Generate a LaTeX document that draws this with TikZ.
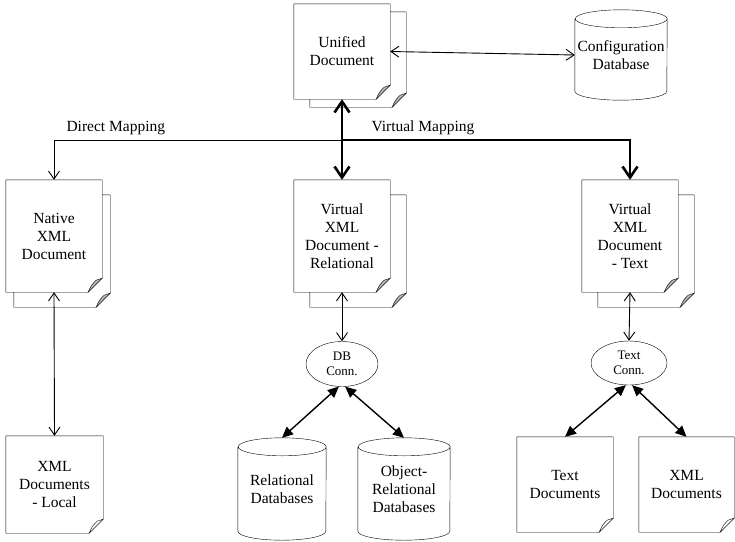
\documentclass[tikz,border=0pt]{standalone}
\usepackage{fontspec}
\setmainfont{Liberation Serif}
\usetikzlibrary{arrows.meta,shapes.geometric}

% front sheet of a document: outline with a folded corner
\newcommand{\frontsheet}[2]{%
  \draw (#1.south west) -- (#1.north west) -- (#1.north east)
    -- ([yshift=14pt]#1.south east) -- ([xshift=-14pt]#1.south east) -- cycle;
  \draw[fill=#2] ([xshift=-14pt]#1.south east)
    .. controls ([xshift=-11pt,yshift=7pt]#1.south east) .. ([xshift=-6pt,yshift=12pt]#1.south east)
    -- ([yshift=14pt]#1.south east) -- cycle;
}
% second sheet behind it, only the visible part
\newcommand{\backsheet}[3]{%
  \draw ([yshift=-#3]#1.north east) -- ([xshift=#2,yshift=-#3]#1.north east)
    -- ([xshift=#2,yshift=14pt-#3]#1.south east) -- ([xshift=#2-14pt,yshift=-#3]#1.south east)
    -- ([xshift=#2,yshift=-#3]#1.south west) -- ([xshift=#2]#1.south west);
  \draw[fill=black!30] ([xshift=#2-14pt,yshift=-#3]#1.south east)
    .. controls ([xshift=#2-11pt,yshift=7pt-#3]#1.south east) .. ([xshift=#2-6pt,yshift=12pt-#3]#1.south east)
    -- ([xshift=#2,yshift=14pt-#3]#1.south east) -- cycle;
}
% database drum
\newcommand{\drum}[2]{%
  \draw ([yshift=-9pt]#1.north west) -- ([yshift=9pt]#1.south west)
    arc[start angle=180, end angle=360, x radius=#2, y radius=9pt]
    -- ([yshift=-9pt]#1.north east)
    arc[start angle=0, end angle=180, x radius=#2, y radius=9pt]
    arc[start angle=180, end angle=360, x radius=#2, y radius=9pt];
}

\begin{document}
\begin{tikzpicture}[
    x=1pt, y=-1pt,
    every node/.style={font=\fontsize{15.5}{18}\selectfont},
    sheet/.style={align=center, inner sep=0pt, minimum width=96pt},
    store/.style={align=center, inner sep=0pt},
    conn/.style={draw, ellipse, align=center, inner sep=0pt, font=\fontsize{13}{15}\selectfont},
    thinlink/.style={line width=0.9pt, arrows={Straight Barb[length=8pt,width=11pt]-Straight Barb[length=8pt,width=11pt]}},
    boldlink/.style={line width=2.6pt, arrows={-Straight Barb[length=11pt,width=15pt]}},
    filllink/.style={line width=1.4pt, arrows={Triangle[length=11pt,width=10pt]-Triangle[length=11pt,width=10pt]}}
  ]
  \useasboundingbox (0,0) rectangle (735,541);

  % Top row
  \node[sheet, minimum height=95pt] (unified) at (342,51.5) {Unified\\Document};
  \node[store, minimum width=92pt, minimum height=90pt] (configdb) at (621,55) {Configuration\\Database};

  % Mapped documents
  \node[sheet, minimum height=112pt] (native) at (54,236) {Native\\XML\\Document};
  \node[sheet, minimum height=112pt] (relational) at (342,236) {Virtual\\XML\\Document -\\Relational};
  \node[sheet, minimum height=112pt] (vtext) at (630,236) {Virtual\\XML\\Document\\- Text};

  % Connectors
  \node[conn, minimum width=72pt, minimum height=45pt] (dbconn) at (342,364) {DB\\Conn.};
  \node[conn, minimum width=76pt, minimum height=44pt] (textconn) at (629,363) {Text\\Conn.};

  % Sources
  \node[sheet, minimum width=97pt, minimum height=97pt] (xmllocal) at (54.5,484.5) {XML\\Documents\\- Local};
  \node[store, minimum width=88pt, minimum height=102pt] (reldb) at (282,489) {Relational\\Databases};
  \node[store, minimum width=92pt, minimum height=102pt] (ordb) at (404,489) {Object-\\Relational\\Databases};
  \node[sheet, minimum height=95pt] (textdocs) at (565,484.5) {Text\\Documents};
  \node[sheet, minimum width=95pt, minimum height=95pt] (xmldocs) at (686.5,484.5) {XML\\Documents};

  % Sheets and drums
  \backsheet{unified}{16pt}{8pt}
  \frontsheet{unified}{black!30}
  \backsheet{native}{8pt}{15pt}
  \frontsheet{native}{black!30}
  \backsheet{relational}{16pt}{15pt}
  \frontsheet{relational}{black!30}
  \backsheet{vtext}{16pt}{15pt}
  \frontsheet{vtext}{black!30}
  \frontsheet{xmllocal}{white}
  \frontsheet{textdocs}{white}
  \frontsheet{xmldocs}{white}
  \drum{configdb}{46pt}
  \drum{reldb}{44pt}
  \drum{ordb}{46pt}

  % Mapping labels
  \coordinate (split) at (342,140);
  \node[anchor=west] (dmap) at (63,128) {Direct Mapping};
  \node[anchor=west] (vmap) at (368,128) {Virtual Mapping};

  % Links
  \draw[thinlink] (unified.east) -- (configdb.west);
  \draw[thinlink, arrows={-Straight Barb[length=8pt,width=11pt]}] (split) -| (native.north);
  \draw[boldlink, arrows={Straight Barb[length=11pt,width=15pt]-Straight Barb[length=11pt,width=15pt]}] (unified.south) -- (relational.north);
  \draw[boldlink] (split) -| (vtext.north);
  \draw[thinlink] (native.south) -- (xmllocal.north);
  \draw[thinlink] (relational.south) -- (dbconn.north);
  \draw[thinlink] (vtext.south) -- (textconn.north);
  \draw[filllink] (dbconn.262) -- (reldb.north);
  \draw[filllink] (dbconn.278) -- (ordb.north);
  \draw[filllink] (textconn.262) -- (textdocs.north);
  \draw[filllink] (textconn.278) -- (xmldocs.north);
\end{tikzpicture}
\end{document}
